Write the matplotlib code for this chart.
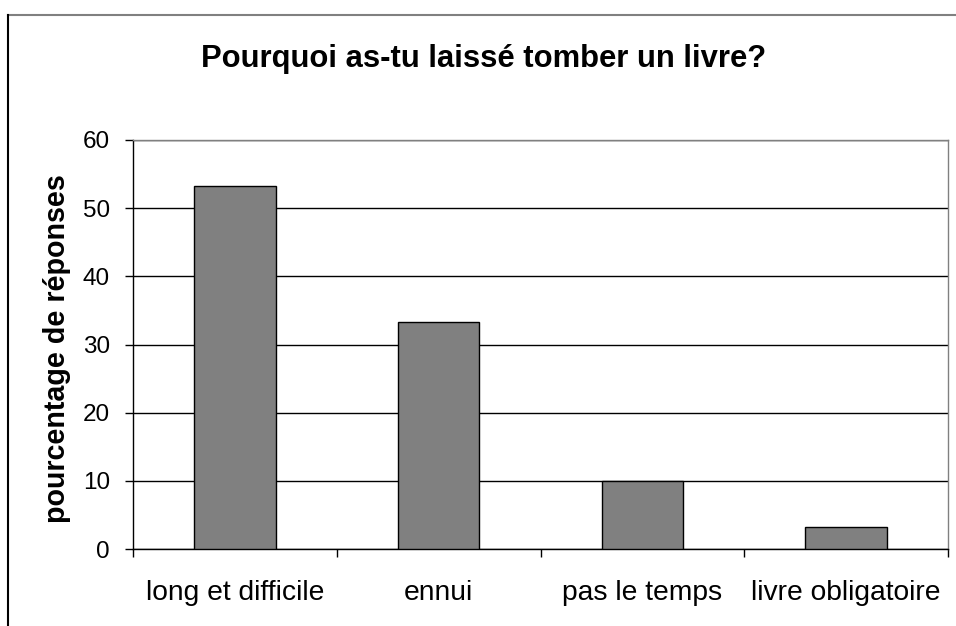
import matplotlib
matplotlib.use("Agg")
import matplotlib.pyplot as plt
from matplotlib.lines import Line2D

categories = ["long et difficile", "ennui", "pas le temps", "livre obligatoire"]
values = [53.3, 33.3, 10.0, 3.3]
yticks = [0, 10, 20, 30, 40, 50, 60]
title = "Pourquoi as-tu laissé tomber un livre?"
ylabel = "pourcentage de réponses"

plt.rcParams['font.family'] = ['Liberation Sans', 'DejaVu Sans']

fig = plt.figure(figsize=(9.56, 6.26), dpi=100)
W, H = 956, 626
ax = fig.add_axes([133 / W, 1 - 549 / H, (948 - 133) / W, (549 - 140) / H])

x = list(range(len(categories)))
ax.bar(x, values, width=0.4, color="#808080", edgecolor="black", linewidth=1, zorder=3)

ax.set_xlim(-0.5, len(categories) - 0.5)
ax.set_ylim(0, 60)
ax.set_yticks(yticks)
ax.set_yticklabels([str(t) for t in yticks], fontsize=17.5)
ax.yaxis.grid(True, color="black", linewidth=1, zorder=0)
ax.set_axisbelow(True)

ax.set_xticks([i - 0.5 for i in range(len(categories) + 1)])
ax.set_xticklabels([])
ax.set_xticks(x, minor=True)
ax.set_xticklabels(categories, minor=True, fontsize=20.3)
ax.tick_params(axis='x', which='minor', length=0, pad=22)
ax.tick_params(axis='x', which='major', length=6, width=1, color="black", direction='out')
ax.tick_params(axis='y', length=6, width=1, color="black", direction='out', pad=10.5)

ax.spines['left'].set_color('black')
ax.spines['bottom'].set_color('black')
ax.spines['top'].set_color('#808080')
ax.spines['right'].set_color('#808080')
for s in ax.spines.values():
    s.set_linewidth(1)

ax.set_ylabel(ylabel, fontsize=20.6, fontweight='bold')
ax.yaxis.set_label_coords((71 - 133) / (948 - 133), 0.49)

fig.text(484 / W, 1 - 59 / H, title, fontsize=22.3, fontweight='bold', ha='center', va='center')

# figure border
fig.add_artist(Line2D([8 / W, 1.0], [1 - 15 / H, 1 - 15 / H], transform=fig.transFigure,
                      color='#808080', linewidth=1.5))
fig.add_artist(Line2D([8 / W, 8 / W], [1 - 15 / H, 0.0], transform=fig.transFigure,
                      color='black', linewidth=1.5))

fig.savefig("out.png", dpi=100)
